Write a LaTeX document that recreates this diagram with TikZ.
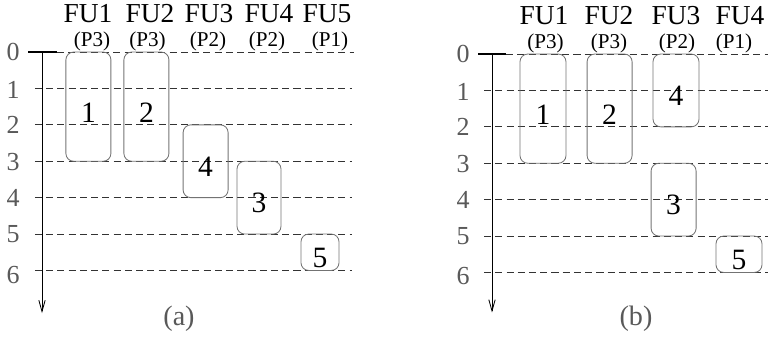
\documentclass[tikz,border=0pt]{standalone}
\usepackage{fontspec}
\setmainfont{Liberation Serif}
\usetikzlibrary{arrows.meta}

\tikzset{
  riga/.style={black!80, line width=0.6pt, dash pattern=on 5pt off 3pt},
  asse/.style={line width=0.6pt, -{Straight Barb[length=8pt,width=4.5pt]}},
  tacca/.style={line width=2pt},
  tempo/.style={text=black!65, font=\fontsize{18.5}{18.5}\selectfont},
  unita/.style={inner sep=1pt, font=\fontsize{19.5}{19.5}\selectfont},
  prio/.style={inner sep=1pt, font=\fontsize{15}{15}\selectfont},
  didascalia/.style={text=black!65, font=\fontsize{20}{20}\selectfont},
  slot/.style={draw=black!55, line width=0.6pt, rounded corners=5.5pt,
    inner sep=0pt, text height=22pt, font=\fontsize{21}{21}\selectfont},
}

\begin{document}
\begin{tikzpicture}[x=1cm, y=-0.91cm]
\useasboundingbox (-1.05,-1.43) rectangle (18.15,7.885);

% grafico (a)
\begin{scope}
\draw[riga] (0.38,0) -- (7.8,0);
\foreach \r in {1,...,6}
  \draw[riga] (-0.18,\r) -- (7.75,\r);
\foreach \r/\y in {0/0,1/1.03,2/2,3/3.03,4/4,5/5,6/6.13}
  \node[tempo] (ta\r) at (-0.72,\y) {\r};
\draw[tacca] (-0.34,0) -- (0.38,0);
\coordinate (oa) at (0,0);
\coordinate (fa) at (0,7.17);
\draw[asse] (oa) -- (fa);

\foreach \n/\x/\p/\xp in {1/1.15/3/1.25, 2/2.7/3/2.64, 3/4.175/2/4.15,
                          4/5.675/2/5.625, 5/7.125/1/7.2} {
  \node[unita] (fua\n) at (\x,-1.05) {FU\n};
  \node[prio] (pa\n) at (\xp,-0.28) {(P\p)};
}

\foreach \n/\x/\a/\b/\w in {1/1.16/0/3/1.125, 2/2.61/0/3/1.125, 4/4.09/2/4/1.125,
                            3/5.425/3/5/1.1, 5/6.95/5/6/0.95}
  \node[slot, minimum width=\w cm, minimum height={(\b-\a)*0.91cm}]
    (sa\n) at (\x,{(\a+\b)/2}) {\n};

\node[didascalia] (capa) at (3.425,7.33) {(a)};
\end{scope}

% grafico (b)
\begin{scope}[shift={(11.25,0.055)}]
\draw[riga] (0.35,0) -- (6.9,0);
\foreach \r in {1,...,6}
  \draw[riga] (-0.2,\r) -- (6.9,\r);
\foreach \r/\y in {0/0,1/1.03,2/2,3/3.03,4/4,5/5,6/6.1}
  \node[tempo] (tb\r) at (-0.72,\y) {\r};
\draw[tacca] (-0.35,0) -- (0.35,0);
\coordinate (ob) at (0,0);
\coordinate (fb) at (0,7.1);
\draw[asse] (ob) -- (fb);

\foreach \n/\x/\p/\xp in {1/1.3/3/1.34, 2/2.925/3/2.925, 3/4.6/2/4.625, 4/6.2/1/6.05} {
  \node[unita] (fub\n) at (\x,-1.05) {FU\n};
  \node[prio] (pb\n) at (\xp,-0.28) {(P\p)};
}

\foreach \n/\x/\a/\b/\w in {1/1.275/0/3/1.15, 2/2.94/0/3/1.125, 4/4.6/0/2/1.15,
                            3/4.54/3/5/1.125, 5/6.175/5/6/1.15}
  \node[slot, minimum width=\w cm, minimum height={(\b-\a)*0.91cm}]
    (sb\n) at (\x,{(\a+\b)/2}) {\n};

\node[didascalia] (capb) at (3.6,7.28) {(b)};
\end{scope}

\end{tikzpicture}
\end{document}
